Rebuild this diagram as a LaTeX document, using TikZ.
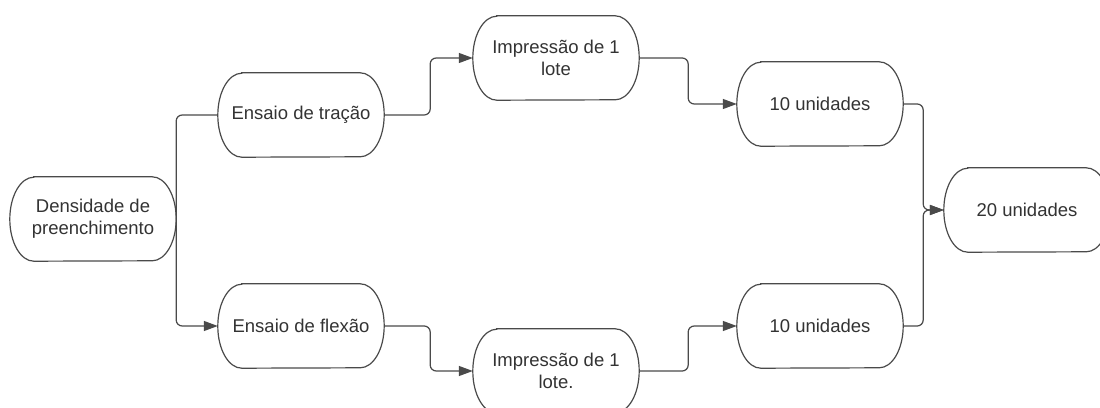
\documentclass[tikz,border=0pt]{standalone}
\usepackage{fontspec}
\setmainfont{Liberation Sans}
\usetikzlibrary{arrows.meta}
\definecolor{txt}{HTML}{333333}
\definecolor{ln}{HTML}{4A4A4A}
\tikzset{
  term/.style={rectangle, minimum width=166pt, minimum height=84pt, inner sep=0pt,
    align=center, text=txt, font=\fontsize{18.5}{22}\selectfont},
  outl/.style={draw=ln, line width=1.2pt},
  conn/.style={draw=ln, line width=1.2pt, rounded corners=6pt},
  arr/.style={conn, -{Triangle[length=14pt,width=10pt]}}
}
\begin{document}
\begin{tikzpicture}[x=1pt,y=1pt]
\clip (0,0) rectangle (1100,407);
\fill[white] (0,0) rectangle (1100,407);
\node[term] (dens) at (93,188) {Densidade de\\preenchimento};
\node[term] (tr) at (301,292) {Ensaio de tração};
\node[term] (fl) at (301,81) {Ensaio de flexão};
\node[term] (imp1) at (556,349) {Impressão de 1\\lote};
\node[term] (imp2) at (556,36) {Impressão de 1\\lote.};
\node[term] (u1) at (820,303) {10 unidades};
\node[term] (u2) at (820,81) {10 unidades};
\node[term] (u20) at (1027,197) {20 unidades};
\foreach \n in {dens,tr,fl,imp1,imp2,u1,u2,u20}{
  \draw[outl] ([xshift=24pt]\n.north west) -- ([xshift=-24pt]\n.north east)
    arc[start angle=90, end angle=-90, x radius=24pt, y radius=42pt]
    -- ([xshift=24pt]\n.south west)
    arc[start angle=270, end angle=90, x radius=24pt, y radius=42pt]
    -- cycle;
}
\draw[conn] (dens.east) |- (tr.west);
\draw[arr] (dens.east) |- (fl.west);
\draw[arr] (tr.east) -- ++(46,0) |- (imp1.west);
\draw[arr] (fl.east) -- ++(46,0) |- (imp2.west);
\draw[arr] (imp1.east) -- ++(49,0) |- (u1.west);
\draw[arr] (imp2.east) -- ++(49,0) |- (u2.west);
\draw[arr] (u1.east) -- ++(20,0) |- (u20.west);
\draw[arr] (u2.east) -- ++(20,0) |- (u20.west);
\end{tikzpicture}
\end{document}
